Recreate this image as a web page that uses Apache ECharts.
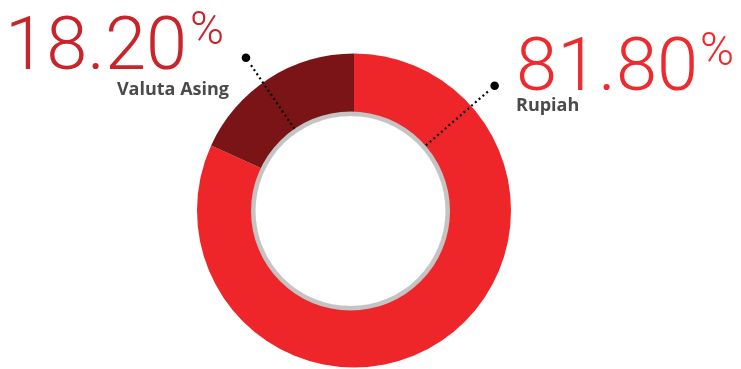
<!DOCTYPE html>
<html>
<head>
<meta charset="utf-8">
<style>
  html, body { margin: 0; padding: 0; background: #ffffff; }
  #chart { width: 741px; height: 369px; }
</style>
<script src="https://cdn.jsdelivr.net/npm/echarts@6/dist/echarts.min.js"></script>
</head>
<body>
<div id="chart"></div>
<script>
// Composition by currency (percent of total)
const categories = ['Rupiah', 'Valuta Asing'];
const shares = [81.8, 18.2];

const sliceColors = ['#EE2629', '#7A1416'];
const valueColors = ['#EE2A2E', '#C8242A'];

const chart = echarts.init(document.getElementById('chart'), null, { renderer: 'canvas' });

// Ring geometry
const ringCenter = [354, 210.5];
const holeCenter = [350.5, 211];
const outerR = 157;
const holeR = 99.5;
const grayW = 5;

// Leader lines: angle measured from 12 o'clock, clockwise positive
const leaders = [
  { angle: 49, r0: 100, r1: 191 },   // Rupiah
  { angle: -34.3, r0: 99.5, r1: 185.5 } // Valuta Asing
];

function polar(c, r, deg) {
  const a = deg * Math.PI / 180;
  return [c[0] + r * Math.sin(a), c[1] - r * Math.cos(a)];
}

const graphics = [];
leaders.forEach(function (l) {
  const p0 = polar(holeCenter, l.r0, l.angle);
  const p1 = polar(holeCenter, l.r1 - 6, l.angle);
  const pd = polar(holeCenter, l.r1, l.angle);
  graphics.push({
    type: 'line', silent: true, z: 10,
    shape: { x1: p0[0], y1: p0[1], x2: p1[0], y2: p1[1] },
    style: { stroke: '#000', lineWidth: 2.2, lineDash: [2, 3], lineCap: 'butt' }
  });
  graphics.push({
    type: 'circle', silent: true, z: 10,
    shape: { cx: pd[0], cy: pd[1], r: 4.3 },
    style: { fill: '#000' }
  });
});

// Value and name labels
const labelPos = [
  { numRight: 698, numY: 108.5, pctX: 700, pctY: 76.5, nameX: 516, nameAlign: 'left', nameY: 97 },
  { numRight: 187, numY: 87, pctX: 190, pctY: 55, nameX: 229, nameAlign: 'right', nameY: 80.5 }
];
const numFont = 'Roboto';
categories.forEach(function (name, i) {
  const p = labelPos[i];
  graphics.push({
    type: 'text', silent: true,
    style: {
      x: p.numRight, y: p.numY, text: shares[i].toFixed(2),
      fill: valueColors[i], font: '300 74px ' + numFont,
      align: 'right', verticalAlign: 'bottom'
    }
  });
  graphics.push({
    type: 'text', silent: true,
    style: {
      x: p.pctX, y: p.pctY, text: '%',
      fill: valueColors[i], font: '300 46px ' + numFont,
      align: 'left', verticalAlign: 'bottom'
    }
  });
  graphics.push({
    type: 'text', silent: true,
    style: {
      x: p.nameX, y: p.nameY, text: name,
      fill: '#4A4A4A', font: 'bold 18px "Open Sans"',
      align: p.nameAlign, verticalAlign: 'top'
    }
  });
});

chart.setOption({
  animation: false,
  backgroundColor: '#ffffff',
  series: [
    {
      type: 'pie',
      name: 'share',
      center: ringCenter,
      radius: [0, outerR],
      startAngle: 90,
      clockwise: true,
      silent: true,
      label: { show: false },
      labelLine: { show: false },
      itemStyle: { borderWidth: 0 },
      emphasis: { disabled: true },
      data: categories.map(function (c, i) {
        return { name: c, value: shares[i], itemStyle: { color: sliceColors[i] } };
      })
    },
    {
      type: 'pie',
      name: 'ring',
      center: holeCenter,
      radius: [holeR - grayW, holeR],
      silent: true,
      z: 3,
      label: { show: false },
      labelLine: { show: false },
      emphasis: { disabled: true },
      itemStyle: { color: '#C4C4C4', borderWidth: 0 },
      data: [{ value: 1 }]
    },
    {
      type: 'pie',
      name: 'hole',
      center: holeCenter,
      radius: [0, holeR - grayW + 0.5],
      silent: true,
      z: 3,
      label: { show: false },
      labelLine: { show: false },
      emphasis: { disabled: true },
      itemStyle: { color: '#ffffff', borderWidth: 0 },
      data: [{ value: 1 }]
    }
  ],
  graphic: graphics
});
</script>
</body>
</html>
